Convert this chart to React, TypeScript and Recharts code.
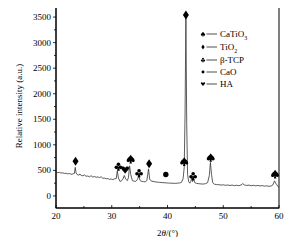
import React from "react";
import { ComposedChart, Line, Scatter, XAxis, YAxis, Customized } from "recharts";

const twoTheta = [
  20.0, 20.3, 20.6, 20.9, 21.2, 21.5, 21.8, 22.1, 22.4, 22.7, 23.0, 23.3, 23.45, 23.6, 23.8, 24.1, 24.3, 24.5, 24.8,
  25.1, 25.4, 25.7, 26.0, 26.3, 26.6, 26.9, 27.2, 27.5, 27.8, 28.1, 28.4, 28.7, 29.0, 29.3, 29.6, 29.9, 30.2, 30.5,
  30.8, 31.0, 31.2, 31.5, 31.8, 32.0, 32.25, 32.5, 32.8, 33.0, 33.2, 33.4, 33.7, 34.0, 34.3, 34.6, 34.85, 35.1, 35.4,
  35.7, 36.0, 36.3, 36.6, 36.8, 37.1, 37.4, 37.8, 38.2, 38.6, 39.0, 39.4, 39.8, 40.2, 40.6, 41.0, 41.4, 41.8, 42.2,
  42.5, 42.8, 43.0, 43.15, 43.3, 43.45, 43.6, 43.8, 44.0, 44.2, 44.35, 44.5, 44.7, 44.9, 45.2, 45.6, 46.0, 46.4, 46.8,
  47.2, 47.5, 47.7, 47.9, 48.1, 48.4, 48.8, 49.2, 49.6, 50.0, 50.4, 50.8, 51.2, 51.6, 52.0, 52.4, 52.8, 53.2, 53.5,
  53.8, 54.2, 54.6, 55.0, 55.4, 55.8, 56.2, 56.6, 57.0, 57.4, 57.8, 58.2, 58.6, 58.9, 59.2, 59.4, 59.6, 59.8, 60.0,
];
const intensity = [
  470, 455, 462, 448, 452, 440, 445, 432, 438, 425, 430, 440, 560, 450, 420, 405, 430, 400, 395,
  410, 385, 390, 375, 395, 370, 380, 365, 372, 360, 375, 345, 350, 335, 340, 325, 330, 320, 335,
  340, 490, 350, 280, 300, 330, 400, 330, 300, 360, 590, 420, 300, 290, 285, 320, 390, 300, 285,
  280, 275, 300, 530, 330, 290, 285, 275, 270, 265, 262, 258, 255, 252, 250, 248, 246, 250, 255,
  265, 340, 560, 1600, 3500, 1400, 420, 280, 250, 290, 360, 280, 330, 260, 245, 240, 235, 232, 240,
  260, 400, 655, 420, 260, 230, 222, 220, 212, 218, 208, 214, 205, 212, 202, 210, 200, 215, 240,
  215, 205, 212, 200, 208, 198, 205, 195, 202, 192, 198, 188, 195, 215, 295, 250, 220, 185, 165,
];

const markerTheta = [33.4, 43.0, 47.75, 59.3, 23.5, 36.7, 43.3, 31.2, 34.9, 44.6, 39.7, 32.4];
const markerIntensity = [725, 675, 755, 430, 680, 630, 3540, 575, 450, 390, 420, 510];
const markerPhase = ["spade", "spade", "spade", "spade", "diamond", "diamond", "diamond", "club", "club", "club", "circle", "heart"];

const legendNames = [
  { base: "CaTiO", sub: "3", shape: "spade" },
  { base: "TiO", sub: "2", shape: "diamond" },
  { base: "β-TCP", sub: "", shape: "club" },
  { base: "CaO", sub: "", shape: "circle" },
  { base: "HA", sub: "", shape: "heart" },
];

const xMajor = [20, 30, 40, 50, 60];
const xTicks = [20, 25, 30, 35, 40, 45, 50, 55, 60];
const yTicks = [0, 250, 500, 750, 1000, 1250, 1500, 1750, 2000, 2250, 2500, 2750, 3000, 3250, 3500];

const lineData = twoTheta.map((x, i) => ({ x, y: intensity[i] }));
const markerData = markerTheta.map((x, i) => ({ x, y: markerIntensity[i], phase: markerPhase[i] }));

const FONT = "'Liberation Serif', 'DejaVu Serif', serif";

function Symbol({ shape, cx, cy, s }: { shape: string; cx: number; cy: number; s: number }) {
  const t = `translate(${cx},${cy}) scale(${s})`;
  if (shape === "diamond") return <path transform={t} d="M0,-4.5 L3,0 L0,4.5 L-3,0 Z" fill="#000" />;
  if (shape === "circle") return <circle cx={cx} cy={cy} r={2.7 * s} fill="#000" />;
  if (shape === "heart")
    return <path transform={t} d="M0,4 C-1,2 -4,0 -4,-1.8 C-4,-3.8 -1.2,-4 0,-2 C1.2,-4 4,-3.8 4,-1.8 C4,0 1,2 0,4 Z" fill="#000" />;
  if (shape === "club")
    return (
      <g transform={t} fill="#000">
        <circle cx={0} cy={-2.2} r={1.8} />
        <circle cx={-2.1} cy={0.8} r={1.8} />
        <circle cx={2.1} cy={0.8} r={1.8} />
        <path d="M-0.5,0 L0.5,0 L1.4,4.3 L-1.4,4.3 Z" />
      </g>
    );
  return (
    <path
      transform={t}
      d="M0,-4.2 C1,-2 4,-0.8 4,1.5 C4,3.2 2,3.6 0.6,2.4 L1.3,4.5 L-1.3,4.5 L-0.6,2.4 C-2,3.6 -4,3.2 -4,1.5 C-4,-0.8 -1,-2 0,-4.2 Z"
      fill="#000"
    />
  );
}

const MarkerShape = (props: any) => {
  const { cx, cy, payload } = props;
  if (cx == null || cy == null) return <g />;
  return <Symbol shape={payload.phase} cx={cx} cy={cy} s={1} />;
};

const YTick = (props: any) => {
  const { x, y, payload } = props;
  const major = payload.value % 500 === 0;
  return (
    <g>
      <line x1={x} x2={x - (major ? 3 : 2)} y1={y} y2={y} stroke="#000" strokeWidth={0.8} />
      {major && (
        <text x={x - 5} y={y} dy={3} textAnchor="end" fontFamily={FONT} fontSize={9} fill="#000">
          {payload.value}
        </text>
      )}
    </g>
  );
};

const XTick = (props: any) => {
  const { x, y, payload } = props;
  const major = xMajor.includes(payload.value);
  return (
    <g>
      <line x1={x} x2={x} y1={y} y2={y - (major ? 3 : 2)} stroke="#000" strokeWidth={0.8} />
      {major && (
        <text x={x} y={y + 11} textAnchor="middle" fontFamily={FONT} fontSize={9} fill="#000">
          {payload.value}
        </text>
      )}
    </g>
  );
};

const Decor = () => {
  const rows = [34, 47, 60, 72, 84];
  return (
    <g>
      <rect x={56} y={5} width={223} height={203} fill="none" stroke="#000" strokeWidth={1} />
      {legendNames.map((l, i) => (
        <g key={l.base}>
          <Symbol shape={l.shape} cx={203} cy={rows[i]} s={0.55} />
          <line x1={206.5} x2={217} y1={rows[i]} y2={rows[i]} stroke="#000" strokeWidth={0.7} />
          <text x={220} y={rows[i] + 3} fontFamily={FONT} fontSize={9} fill="#000">
            {l.base}
            {l.sub && (
              <tspan fontSize={6} dy={2.5}>
                {l.sub}
              </tspan>
            )}
          </text>
        </g>
      ))}
      <text
        transform="translate(22,106) rotate(-90)"
        textAnchor="middle"
        fontFamily={FONT}
        fontSize={9}
        fill="#000"
      >
        Relative intensity (a.u.)
      </text>
      <text x={167.5} y={236} textAnchor="middle" fontFamily={FONT} fontSize={9} fill="#000">
        2<tspan fontStyle="italic">θ</tspan>/(°)
      </text>
    </g>
  );
};

export default function App() {
  return (
    <ComposedChart width={296} height={245} margin={{ top: 5, right: 17, bottom: 7, left: 0 }} style={{ margin: "-8px" }}>
      <XAxis
        dataKey="x"
        type="number"
        domain={[20, 60]}
        ticks={xTicks}
        tick={<XTick />}
        tickLine={false}
        tickSize={0}
        tickMargin={0}
        axisLine={{ stroke: "#000" }}
        height={30}
        interval={0}
        allowDataOverflow
      />
      <YAxis
        type="number"
        domain={[-236, 3736]}
        ticks={yTicks}
        tick={<YTick />}
        tickLine={false}
        tickSize={0}
        tickMargin={0}
        axisLine={{ stroke: "#000" }}
        width={56}
        interval={0}
        allowDataOverflow
      />
      <Line
        data={lineData}
        dataKey="y"
        type="linear"
        stroke="#333"
        strokeWidth={0.8}
        dot={false}
        isAnimationActive={false}
      />
      <Scatter data={markerData} dataKey="y" shape={<MarkerShape />} isAnimationActive={false} />
      <Customized component={<Decor />} />
    </ComposedChart>
  );
}
